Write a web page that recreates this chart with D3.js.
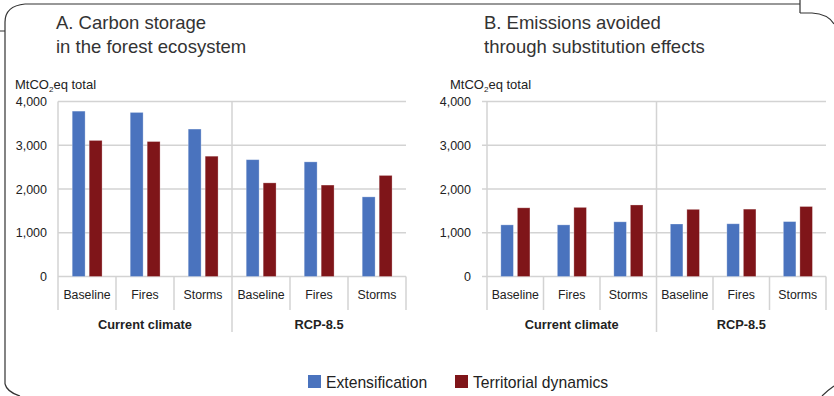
<!DOCTYPE html>
<html>
<head>
<meta charset="utf-8">
<script src="https://cdn.jsdelivr.net/npm/d3@7"></script>
<style>
  body { margin: 0; background: #fff; }
  svg text { font-family: "Liberation Sans", Arial, sans-serif; fill: #222; }
</style>
</head>
<body>
<svg id="chart" width="834" height="396"></svg>
<script>
// chart data
const climates = ["Current climate", "RCP-8.5"]
const scenarios = ["Baseline", "Fires", "Storms"]
const seriesNames = ["Extensification", "Territorial dynamics"]
const colors = ["#4a73be", "#7f1519"]
const yTicks = [0, 1000, 2000, 3000, 4000]

// panel A, in the order climate x scenario
const storageExt = [3780, 3750, 3370, 2670, 2620, 1820]
const storageTerr = [3110, 3085, 2750, 2140, 2090, 2310]
// panel B
const avoidedExt = [1180, 1180, 1250, 1200, 1205, 1255]
const avoidedTerr = [1570, 1580, 1635, 1535, 1540, 1600]

const svg = d3.select("#chart")
const grid = "#d3d3d3"

// frame bits
const frame = svg.append("g").attr("fill", "none").attr("stroke", "#333").attr("stroke-width", 1.2)
frame.append("path").attr("d", "M25,4 L800,4 M800,0 L800,13 M5,384 L5,22 Q5,6 25,4 M0,31 L5,31")
frame.append("path").attr("d", "M800,13 L812,13 Q828,14 834,24")
frame.append("path").attr("d", "M5,384 Q7,392 20,396")
frame.append("path").attr("d", "M822,396 Q828,390 834,386")

drawPanel({
  title: ["A. Carbon storage", "in the forest ecosystem"],
  titleX: 56, labelX: 15, tickX: 47, left: 58, right: 406,
  ext: storageExt, terr: storageTerr, stub: 0
})
drawPanel({
  title: ["B. Emissions avoided", "through substitution effects"],
  titleX: 484, labelX: 450, tickX: 476, left: 487, right: 826,
  ext: avoidedExt, terr: avoidedTerr, stub: 5
})

function drawPanel(p) {
  let g = svg.append("g")
  let top = 101.5, zero = 276.5

  let cats = []
  climates.forEach(c => scenarios.forEach(s => cats.push(c + "|" + s)))

  let x = d3.scaleBand().domain(cats).range([p.left, p.right])
  let bw = x.bandwidth()
  let xs = d3.scaleBand().domain(seriesNames)
    .range([bw * 0.245, bw * 0.76]).paddingInner(0.24)
  let y = d3.scaleLinear().domain([0, 4000]).range([zero, top])

  // titles
  g.selectAll(".title").data(p.title).enter().append("text")
    .attr("x", p.titleX).attr("y", (d, i) => 29 + i * 24)
    .attr("font-size", 18.5).style("fill", "#333")
    .text(d => d)

  let lab = g.append("text").attr("x", p.labelX).attr("y", 89).attr("font-size", 13)
  lab.append("tspan").text("MtCO")
  lab.append("tspan").attr("font-size", 8).attr("dy", 3).text("2")
  lab.append("tspan").attr("dy", -3).text("eq total")

  // gridlines
  g.selectAll(".grid").data(yTicks).enter().append("line")
    .attr("x1", p.left - p.stub).attr("x2", p.right)
    .attr("y1", d => y(d)).attr("y2", d => y(d))
    .attr("stroke", grid).attr("stroke-width", 1.5)

  g.selectAll(".tick").data(yTicks).enter().append("text")
    .attr("x", p.tickX - p.stub).attr("y", d => y(d) + 4.5)
    .attr("text-anchor", "end").attr("font-size", 12.5)
    .text(d => d3.format(",")(d))

  // vertical lines
  let edges = cats.map(c => x(c)).concat([p.right])
  g.selectAll(".sep").data(edges).enter().append("line")
    .attr("x1", d => d).attr("x2", d => d)
    .attr("y1", (d, i) => i === 0 || i === 3 ? top : zero)
    .attr("y2", (d, i) => i === 3 ? 332 : 310)
    .attr("stroke", grid).attr("stroke-width", 1.5)

  // bars
  let rows = cats.map((c, i) => ({ cat: c, vals: [p.ext[i], p.terr[i]] }))
  let grp = g.selectAll(".grp").data(rows).enter().append("g")
    .attr("transform", d => "translate(" + x(d.cat) + ",0)")
  grp.selectAll("rect").data(d => d.vals).enter().append("rect")
    .attr("x", (d, i) => xs(seriesNames[i]))
    .attr("width", xs.bandwidth())
    .attr("y", d => y(d))
    .attr("height", d => zero - y(d))
    .attr("fill", (d, i) => colors[i])
    .attr("stroke", "#fff").attr("stroke-opacity", 0.35).attr("stroke-width", 0.8)

  g.selectAll(".cat").data(cats).enter().append("text")
    .attr("x", d => x(d) + bw / 2).attr("y", 299)
    .attr("text-anchor", "middle").attr("font-size", 12.3)
    .text(d => d.split("|")[1])

  g.selectAll(".clim").data(climates).enter().append("text")
    .attr("x", (d, i) => p.left + (p.right - p.left) * (i * 2 + 1) / 4)
    .attr("y", 329).attr("text-anchor", "middle")
    .attr("font-size", 12.8).attr("font-weight", "bold")
    .text(d => d)
}

// legend
let leg = svg.append("g").attr("transform", "translate(308,375)")
let items = leg.selectAll("g").data(seriesNames).enter().append("g")
  .attr("transform", (d, i) => "translate(" + (i * 147) + ",0)")
items.append("rect").attr("width", 13).attr("height", 13).attr("fill", (d, i) => colors[i])
items.append("text").attr("x", 18).attr("y", 13).attr("font-size", 15.7).text(d => d)
</script>
</body>
</html>
